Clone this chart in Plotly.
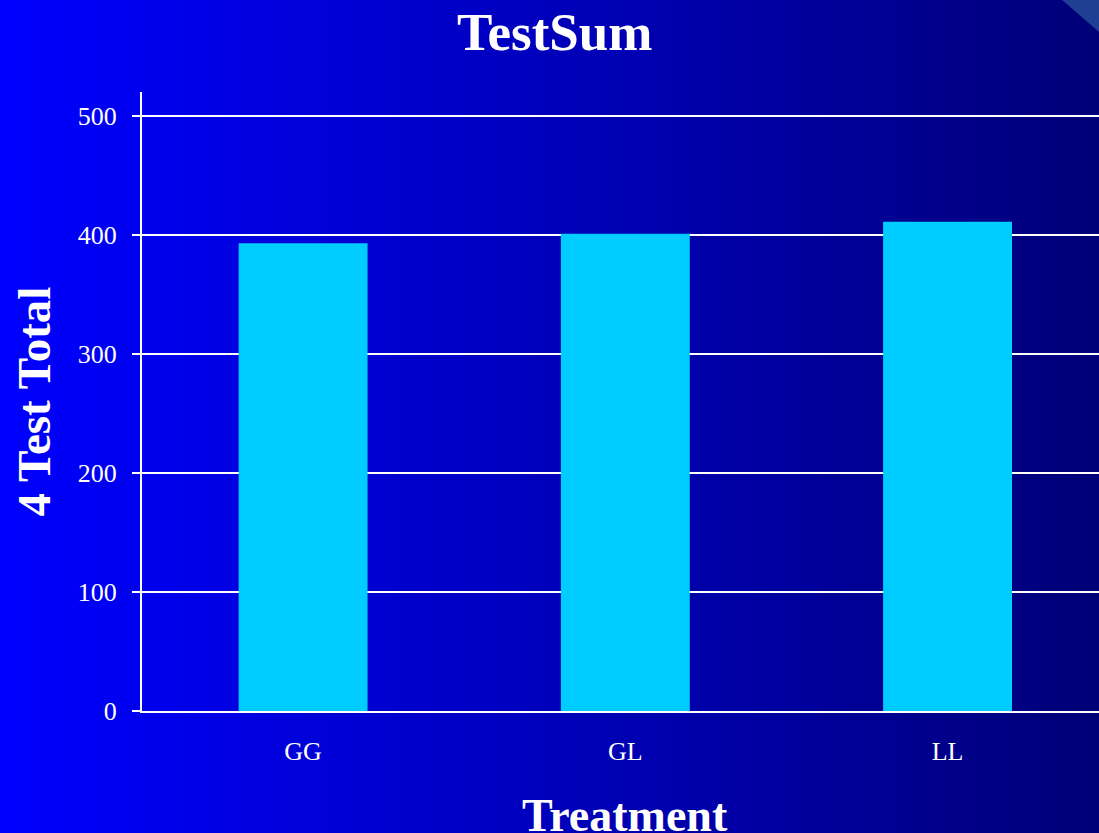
import base64
import plotly.graph_objects as go

# Data
treatments = ["GG", "GL", "LL"]
test_totals = [393, 401, 411]
y_ticks = [0, 100, 200, 300, 400, 500]

W, H = 1099, 833
ML, MR, MT, MB = 142, 0, 92, 122
plot_w = W - ML - MR
plot_h = H - MT - MB

# Horizontal blue gradient backdrop with the small corner accent
svg = (
    f"<svg xmlns='http://www.w3.org/2000/svg' width='{W}' height='{H}' "
    f"viewBox='0 0 {W} {H}' preserveAspectRatio='none'>"
    "<defs><linearGradient id='g' x1='0' x2='1' y1='0' y2='0'>"
    "<stop offset='0' stop-color='#0000FF'/>"
    "<stop offset='1' stop-color='#000078'/>"
    "</linearGradient></defs>"
    f"<rect width='{W}' height='{H}' fill='url(#g)'/>"
    f"<polygon points='1062,0 {W},0 {W},32' fill='#1F3E94'/>"
    "</svg>"
)
bg_uri = "data:image/svg+xml;base64," + base64.b64encode(svg.encode()).decode()

serif = "Liberation Serif, Times New Roman, serif"

fig = go.Figure(
    go.Bar(
        x=treatments,
        y=test_totals,
        width=0.4,
        marker=dict(color="#00CCFF", line=dict(width=0)),
    )
)

fig.update_layout(
    width=W,
    height=H,
    margin=dict(l=ML, r=MR, t=MT, b=MB),
    paper_bgcolor="#0000C0",
    plot_bgcolor="rgba(0,0,0,0)",
    showlegend=False,
    font=dict(family=serif, color="white", size=26),
    images=[
        dict(
            source=bg_uri,
            xref="paper",
            yref="paper",
            x=-ML / plot_w,
            y=1 + MT / plot_h,
            sizex=W / plot_w,
            sizey=H / plot_h,
            xanchor="left",
            yanchor="top",
            sizing="stretch",
            layer="below",
        )
    ],
    annotations=[
        dict(
            text="<b>TestSum</b>",
            xref="paper", yref="paper",
            x=(554.5 - ML) / plot_w, y=1 + (MT - 32) / plot_h,
            xanchor="center", yanchor="middle",
            showarrow=False,
            font=dict(family=serif, size=53, color="white"),
        ),
        dict(
            text="<b>Treatment</b>",
            xref="x", yref="paper",
            x=1, y=-104 / plot_h,
            xanchor="center", yanchor="middle",
            showarrow=False,
            font=dict(family=serif, size=46, color="white"),
        ),
        dict(
            text="<b>4 Test Total</b>",
            xref="paper", yref="paper",
            x=(33 - ML) / plot_w, y=0.5,
            xanchor="center", yanchor="middle",
            textangle=-90,
            showarrow=False,
            font=dict(family=serif, size=47, color="white"),
        ),
    ],
)

fig.update_xaxes(
    range=[-0.5, 2.47],
    showgrid=False,
    showline=True,
    linecolor="white",
    linewidth=2,
    ticks="",
    ticklabelstandoff=16,
    tickfont=dict(family=serif, size=26, color="white"),
    zeroline=False,
)

fig.update_yaxes(
    range=[0, 520],
    tickvals=y_ticks,
    showgrid=True,
    gridcolor="white",
    gridwidth=2,
    showline=True,
    linecolor="white",
    linewidth=2,
    ticks="outside",
    ticklen=8,
    tickwidth=2,
    tickcolor="white",
    ticklabelstandoff=10,
    tickfont=dict(family=serif, size=26, color="white"),
    zeroline=False,
)

fig.write_html("out.html")
